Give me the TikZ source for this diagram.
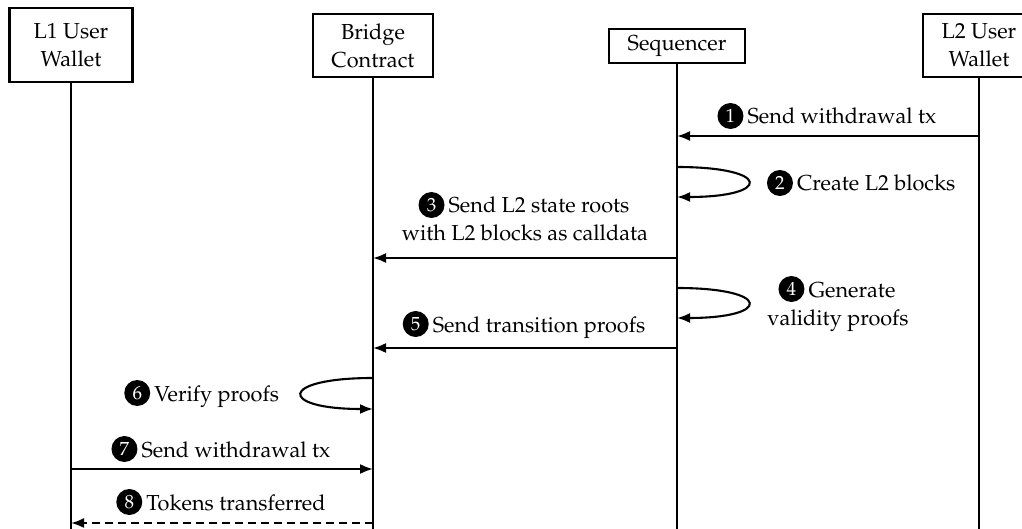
\documentclass[tikz,border=0pt]{standalone}
\usepackage[T1]{fontenc}
\renewcommand{\rmdefault}{ppl}
\usetikzlibrary{arrows.meta}

\begin{document}
\begin{tikzpicture}[x=1pt, y=-1pt, line width=2.1pt,
  font=\fontsize{21.7}{28}\selectfont,
  actor/.style={draw, align=center, inner sep=0pt},
  msg/.style={-{Latex[length=13pt,width=10pt]}},
  reply/.style={msg, dash pattern=on 8pt off 5pt},
  lbl/.style={anchor=base, inner sep=0pt},
  stepno/.style={circle, fill=black, text=white, inner sep=0pt,
    minimum size=26pt, anchor=east, font=\fontsize{19}{19}\selectfont}]
\useasboundingbox (0,0) rectangle (1022,529);

% participants
\node[actor, minimum width=123pt, minimum height=74pt] (l1) at (71,45)  {L1 User\\Wallet};
\node[actor, minimum width=120pt, minimum height=63pt] (br) at (373,45.5) {Bridge\\Contract};
\node[actor, minimum width=136pt, minimum height=34pt] (sq) at (677,46)  {Sequencer};
\node[actor, minimum width=112pt, minimum height=63pt] (l2) at (979,45.5) {L2 User\\Wallet};

% lifelines
\coordinate (bot) at (0,540);
\foreach \p in {l1,br,sq,l2}
  \draw (\p.south) -- (\p.south |- bot);

% message end points on the lifelines
\coordinate (m1a) at (l2.south |- 0,136);  \coordinate (m1b) at (sq.south |- 0,136);
\coordinate (m2a) at (sq.south |- 0,167);  \coordinate (m2b) at (sq.south |- 0,197);
\coordinate (m3a) at (sq.south |- 0,258);  \coordinate (m3b) at (br.south |- 0,258);
\coordinate (m4a) at (sq.south |- 0,288);  \coordinate (m4b) at (sq.south |- 0,318);
\coordinate (m5a) at (sq.south |- 0,348);  \coordinate (m5b) at (br.south |- 0,348);
\coordinate (m6a) at (br.south |- 0,378);  \coordinate (m6b) at (br.south |- 0,409);
\coordinate (m7a) at (l1.south |- 0,469);  \coordinate (m7b) at (br.south |- 0,469);
\coordinate (m8a) at (br.south |- 0,523);  \coordinate (m8b) at (l1.south |- 0,523);

% messages and their labels
\draw[msg] (m1a) -- node[lbl, xshift=14pt, yshift=12pt] (t1) {Send withdrawal tx} (m1b);
\draw[msg] (m2a) .. controls +(95,0) and +(95,0) .. (m2b);
\node[lbl, anchor=base west] (t2) at (796,191) {Create L2 blocks};
\draw[msg] (m3a) -- node[lbl, yshift=17pt] (t3b) {with L2 blocks as calldata} (m3b);
\node[lbl, xshift=14pt] (t3a) at ([yshift=28pt]t3b.base) {Send L2 state roots};
\draw[msg] (m4a) .. controls +(95,0) and +(95,0) .. (m4b);
\node[lbl] (t4b) at (838,325) {validity proofs};
\node[lbl, xshift=14pt] (t4a) at (838,297) {Generate};
\draw[msg] (m5a) -- node[lbl, xshift=14pt, yshift=16pt] (t5) {Send transition proofs} (m5b);
\draw[msg] (m6a) .. controls +(-95,0) and +(-95,0) .. (m6b);
\node[lbl, anchor=base east] (t6) at (280,401) {Verify proofs};
\draw[msg] (m7a) -- node[lbl, xshift=14pt, yshift=12pt] (t7) {Send withdrawal tx} (m7b);
\draw[reply] (m8a) -- node[lbl, xshift=14pt, yshift=13pt] (t8) {Tokens transferred} (m8b);

% step numbers in front of the labels
\node[stepno] (n1) at ([xshift=-2pt, yshift=8pt]t1.base west) {1};
\node[stepno] (n2) at ([xshift=-2pt, yshift=8pt]t2.base west) {2};
\node[stepno] (n3) at ([xshift=-2pt, yshift=8pt]t3a.base west) {3};
\node[stepno] (n4) at ([xshift=-2pt, yshift=8pt]t4a.base west) {4};
\node[stepno] (n5) at ([xshift=-2pt, yshift=8pt]t5.base west) {5};
\node[stepno] (n6) at ([xshift=-2pt, yshift=8pt]t6.base west) {6};
\node[stepno] (n7) at ([xshift=-2pt, yshift=8pt]t7.base west) {7};
\node[stepno] (n8) at ([xshift=-2pt, yshift=8pt]t8.base west) {8};
\end{tikzpicture}
\end{document}
